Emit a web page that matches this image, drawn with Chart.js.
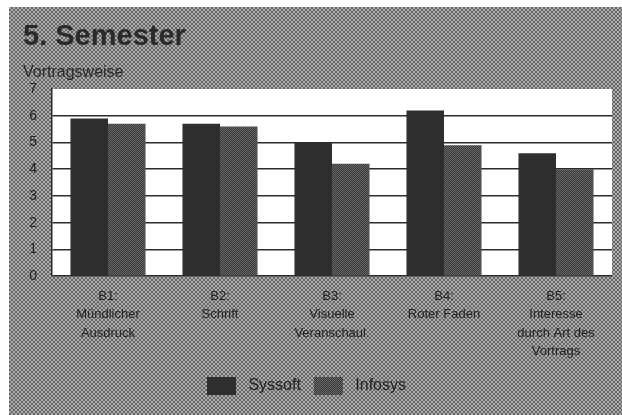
<!DOCTYPE html>
<html>
<head>
<meta charset="utf-8">
<script src="https://cdn.jsdelivr.net/npm/chart.js@4/dist/chart.umd.min.js"></script>
<style>
  html, body { margin: 0; padding: 0; background: #ffffff; }
  body { width: 622px; height: 415px; position: relative; overflow: hidden; }
  #wrap {
    position: absolute; left: 9px; top: 7px; width: 613px; height: 408px;
    background-color: #8a8a8a;
    background-image: repeating-conic-gradient(#666666 0 25%, #adadad 0 50%);
    background-size: 4px 4px;
  }
  canvas { display: block; }
</style>
</head>
<body>
<div id="wrap"><canvas id="c" width="613" height="408"></canvas></div>
<script>
const titleText = "5. Semester";
const subtitleText = "Vortragsweise";
const categories = [
  ["B1:", "Mündlicher", "Ausdruck"],
  ["B2:", "Schrift"],
  ["B3:", "Visuelle", "Veranschaul."],
  ["B4:", "Roter Faden"],
  ["B5:", "Interesse", "durch Art des", "Vortrags"]
];
const seriesNames = ["Syssoft", "Infosys"];
const syssoft = [5.9, 5.7, 5.0, 6.2, 4.6];
const infosys = [5.7, 5.6, 4.2, 4.9, 4.0];
const yTicks = [0, 1, 2, 3, 4, 5, 6, 7];

function makePattern(c1, c2) {
  const p = document.createElement('canvas');
  p.width = 2; p.height = 2;
  const g = p.getContext('2d');
  g.fillStyle = c1; g.fillRect(0, 0, 2, 2);
  g.fillStyle = c2; g.fillRect(0, 0, 1, 1); g.fillRect(1, 1, 1, 1);
  return g.createPattern(p, 'repeat');
}
const ctx = document.getElementById('c').getContext('2d');
const infosysFill = makePattern('#3a3a3a', '#666666');

const whiteArea = {
  id: 'whiteArea',
  beforeDraw(chart) {
    const a = chart.chartArea, g = chart.ctx;
    g.save(); g.fillStyle = '#ffffff';
    g.fillRect(a.left, a.top, a.right - a.left, a.bottom - a.top);
    g.restore();
  }
};
// the original legend sits a little left of centre
const legendShift = {
  id: 'legendShift',
  afterLayout(chart) {
    if (chart.legend) { chart.legend.left -= 11; chart.legend.right -= 11; }
  }
};

const FONT = 'Liberation Sans, Arial, sans-serif';

new Chart(ctx, {
  type: 'bar',
  data: {
    labels: categories,
    datasets: [
      { label: seriesNames[0], data: syssoft, backgroundColor: '#2e2e2e', borderWidth: 0 },
      { label: seriesNames[1], data: infosys, backgroundColor: infosysFill, borderWidth: 0 }
    ]
  },
  options: {
    responsive: false,
    animation: false,
    layout: { padding: { left: 14, right: 10, top: 0, bottom: 10 } },
    datasets: { bar: { categoryPercentage: 0.67, barPercentage: 1.0 } },
    plugins: {
      title: {
        display: true, text: titleText, align: 'start', color: '#2a2a2a',
        font: { family: FONT, size: 29, weight: 'bold' },
        padding: { top: 13, bottom: 0 }
      },
      subtitle: {
        display: true, text: subtitleText, align: 'start', color: '#2a2a2a',
        font: { family: FONT, size: 16 },
        padding: { top: 8, bottom: 7 }
      },
      legend: {
        position: 'bottom',
        labels: {
          boxWidth: 29, boxHeight: 18, color: '#222222', padding: 13,
          font: { family: FONT, size: 16 },
          generateLabels(chart) {
            const items = Chart.defaults.plugins.legend.labels.generateLabels(chart);
            items.forEach(it => { it.text = ' ' + it.text; it.lineWidth = 0; });
            return items;
          }
        }
      },
      tooltip: { enabled: false }
    },
    scales: {
      x: {
        grid: { display: false },
        border: { display: false },
        ticks: {
          color: '#222222', padding: 3, maxRotation: 0, autoSkip: false,
          font: { family: FONT, size: 13, lineHeight: 1.42 }
        }
      },
      y: {
        min: 0, max: 7,
        afterBuildTicks(scale) { scale.ticks = yTicks.map(v => ({ value: v })); },
        afterFit(scale) { scale.width = 29; },
        grid: {
          drawTicks: false,
          color: c => (c.tick && c.tick.value === 7) ? 'rgba(0,0,0,0)' : '#2b2b2b',
          lineWidth: 1.5
        },
        border: { display: true, color: '#2b2b2b', width: 1.5 },
        ticks: {
          color: '#222222', padding: 15,
          font: { family: FONT, size: 14 }
        }
      }
    }
  },
  plugins: [whiteArea, legendShift]
});
</script>
</body>
</html>
